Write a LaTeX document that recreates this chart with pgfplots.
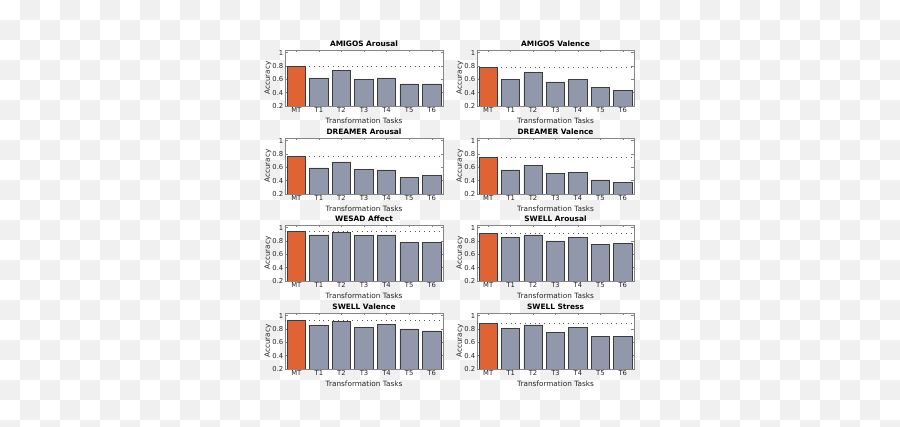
\documentclass[border=0pt]{standalone}
\usepackage{fontspec}
\setmainfont{DejaVu Sans}
\usepackage{pgfplots}
\pgfplotsset{compat=1.18}
\definecolor{bgg}{HTML}{F0F0F0}
\definecolor{mtorange}{HTML}{E06333}
\definecolor{bargray}{HTML}{9298AC}
\definecolor{edgec}{HTML}{3C3C3C}
\definecolor{framec}{HTML}{858585}
\definecolor{txt}{HTML}{262626}
\pgfplotsset{
  every axis title shift=0pt,
  panel/.style={
    scale only axis, height=56pt,
    xmin=-0.5, xmax=6.5, ymin=0.2, ymax=1.04,
    xtick={0,1,2,3,4,5,6}, xticklabels={MT,T1,T2,T3,T4,T5,T6},
    ytick={0.2,0.4,0.6,0.8,1}, yticklabels={0.2,0.4,0.6,0.8,1},
    /pgf/number format/assume math mode=true,
    tick align=inside, major tick length=2.5pt,
    tick style={framec, line width=0.4pt},
    axis line style={framec, line width=0.5pt},
    axis background/.style={fill=white},
    ticklabel style={font=\fontsize{6.8}{7}\selectfont, text=txt},
    yticklabel style={inner sep=1.5pt},
    xticklabel style={inner sep=1.5pt},
    xlabel={Transformation Tasks}, ylabel={Accuracy},
    label style={font=\fontsize{7.3}{8}\selectfont, text=txt},
    xlabel style={at={(axis description cs:0.5,-0.27)}, anchor=center},
    ylabel style={at={(axis description cs:-0.108,0.5)}, anchor=center},
    title style={font=\bfseries\fontsize{7.4}{8}\selectfont, at={(axis description cs:0.5,1)}, anchor=base, yshift=3.5pt, inner sep=0pt},
    anchor=north west,
  },
  mtbar/.style={ybar, bar shift=0pt, bar width=0.82, fill=mtorange, draw=edgec, line width=0.7pt},
  tbar/.style={ybar, bar shift=0pt, bar width=0.82, fill=bargray, draw=edgec, line width=0.7pt},
  refline/.style={gray!70!black, line width=0.6pt, dash pattern=on 0.8pt off 4pt},
}
\begin{document}
\begin{tikzpicture}
\useasboundingbox (0pt,0pt) rectangle (900pt,427pt);
\fill[white] (0pt,0pt) rectangle (900pt,427pt);
\foreach \i in {0,...,44}{
  \foreach \j in {0,...,21}{
    \pgfmathtruncatemacro\p{mod(\i+\j,2)}
    \ifnum\p=1
      \fill[bgg] (\i*20pt, 427pt-\j*20pt) rectangle ++(20pt,-20pt);
    \fi
  }
}
% Row 1
\begin{axis}[panel, width=158pt, at={(285pt,377pt)}, title={AMIGOS Arousal}]
\addplot[refline] coordinates {(-0.5,0.80) (6.5,0.80)};
\addplot[mtbar] coordinates {(0,0.80)};
\addplot[tbar] coordinates {(1,0.62) (2,0.73) (3,0.60) (4,0.62) (5,0.53) (6,0.53)};
\end{axis}
\begin{axis}[panel, width=157pt, at={(477pt,377pt)}, title={AMIGOS Valence}]
\addplot[refline] coordinates {(-0.5,0.78) (6.5,0.78)};
\addplot[mtbar] coordinates {(0,0.78)};
\addplot[tbar] coordinates {(1,0.60) (2,0.70) (3,0.56) (4,0.60) (5,0.48) (6,0.43)};
\end{axis}
% Row 2
\begin{axis}[panel, width=158pt, at={(285pt,289pt)}, title={DREAMER Arousal}]
\addplot[refline] coordinates {(-0.5,0.77) (6.5,0.77)};
\addplot[mtbar] coordinates {(0,0.77)};
\addplot[tbar] coordinates {(1,0.59) (2,0.68) (3,0.57) (4,0.56) (5,0.45) (6,0.48)};
\end{axis}
\begin{axis}[panel, width=157pt, at={(477pt,289pt)}, title={DREAMER Valence}]
\addplot[refline] coordinates {(-0.5,0.75) (6.5,0.75)};
\addplot[mtbar] coordinates {(0,0.75)};
\addplot[tbar] coordinates {(1,0.56) (2,0.63) (3,0.51) (4,0.52) (5,0.41) (6,0.37)};
\end{axis}
% Row 3
\begin{axis}[panel, width=158pt, at={(285pt,202pt)}, title={WESAD Affect}]
\addplot[refline] coordinates {(-0.5,0.94) (6.5,0.94)};
\addplot[mtbar] coordinates {(0,0.94)};
\addplot[tbar] coordinates {(1,0.89) (2,0.93) (3,0.88) (4,0.89) (5,0.78) (6,0.78)};
\end{axis}
\begin{axis}[panel, width=157pt, at={(477pt,202pt)}, title={SWELL Arousal}]
\addplot[refline] coordinates {(-0.5,0.92) (6.5,0.92)};
\addplot[mtbar] coordinates {(0,0.92)};
\addplot[tbar] coordinates {(1,0.85) (2,0.89) (3,0.80) (4,0.85) (5,0.75) (6,0.76)};
\end{axis}
% Row 4
\begin{axis}[panel, width=158pt, at={(285pt,114pt)}, title={SWELL Valence}]
\addplot[refline] coordinates {(-0.5,0.93) (6.5,0.93)};
\addplot[mtbar] coordinates {(0,0.93)};
\addplot[tbar] coordinates {(1,0.85) (2,0.91) (3,0.82) (4,0.87) (5,0.80) (6,0.77)};
\end{axis}
\begin{axis}[panel, width=157pt, at={(477pt,114pt)}, title={SWELL Stress}]
\addplot[refline] coordinates {(-0.5,0.89) (6.5,0.89)};
\addplot[mtbar] coordinates {(0,0.89)};
\addplot[tbar] coordinates {(1,0.81) (2,0.86) (3,0.75) (4,0.82) (5,0.69) (6,0.69)};
\end{axis}
\end{tikzpicture}
\end{document}
